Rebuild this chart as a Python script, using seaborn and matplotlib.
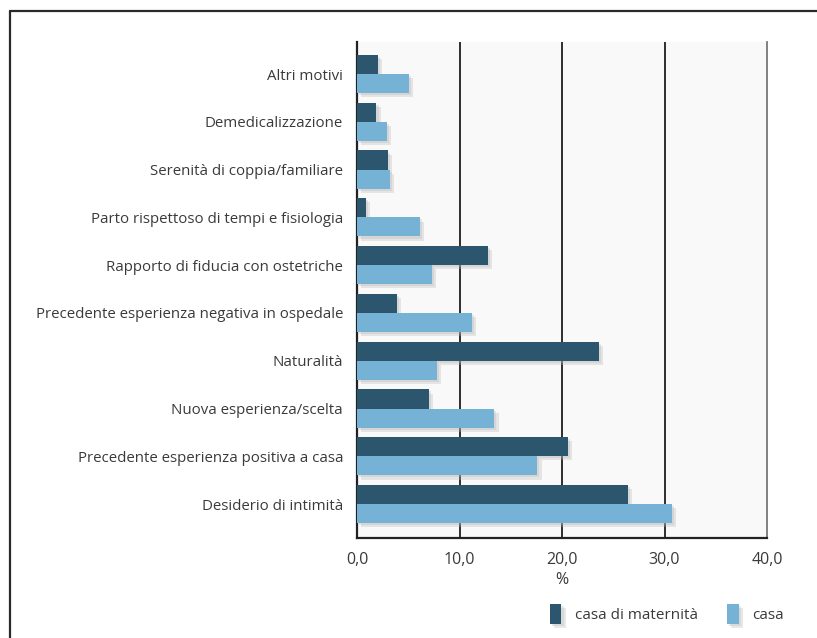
import matplotlib
matplotlib.use("Agg")
import matplotlib.pyplot as plt
import matplotlib.patheffects as pe
from matplotlib.lines import Line2D
from matplotlib.patches import Patch
import seaborn as sns
import pandas as pd

categories = [
    "Altri motivi",
    "Demedicalizzazione",
    "Serenità di coppia/familiare",
    "Parto rispettoso di tempi e fisiologia",
    "Rapporto di fiducia con ostetriche",
    "Precedente esperienza negativa in ospedale",
    "Naturalità",
    "Nuova esperienza/scelta",
    "Precedente esperienza positiva a casa",
    "Desiderio di intimità",
]
casa_maternita = [2.0, 1.9, 3.0, 0.9, 12.8, 3.9, 23.6, 7.0, 20.6, 26.4]
casa = [5.1, 2.9, 3.2, 6.1, 7.3, 11.2, 7.8, 13.4, 17.6, 30.7]
series_names = ["casa di maternità", "casa"]
x_ticks = [0, 10, 20, 30, 40]
x_ticklabels = ["0,0", "10,0", "20,0", "30,0", "40,0"]

dark = "#2b566e"
light = "#76b2d6"
text_col = "#3a3a3a"

df = pd.DataFrame({
    "motivo": categories * 2,
    "valore": casa_maternita + casa,
    "serie": [series_names[0]] * len(categories) + [series_names[1]] * len(categories),
})

sns.set_theme(style="white")
plt.rcParams["font.family"] = ["Open Sans", "DejaVu Sans"]

fig = plt.figure(figsize=(8.17, 6.38), dpi=100)
ax = fig.add_axes([357 / 817, 1 - 538 / 638, 410 / 817, 496 / 638])
ax.set_facecolor("#f9f9f9")

sns.barplot(data=df, y="motivo", x="valore", hue="serie", order=categories,
            hue_order=series_names, palette=[dark, light], orient="h",
            width=0.8, saturation=1, ax=ax, legend=False, zorder=3)

shadow = [pe.SimplePatchShadow(offset=(3, -3), shadow_rgbFace="#b5b5b5", alpha=0.3),
          pe.SimplePatchShadow(offset=(1.5, -1.5), shadow_rgbFace="#b5b5b5", alpha=0.3),
          pe.Normal()]
for p in ax.patches:
    p.set_edgecolor("none")
    p.set_path_effects(shadow)

for xv in x_ticks[1:4]:
    ax.axvline(xv, color="#1e1e1e", lw=1.3, zorder=1)

ax.set_xlim(0, 40)
ax.set_ylim(len(categories) - 1 + 0.71, -0.67)
ax.set_xticks(x_ticks)
ax.set_xticklabels(x_ticklabels, fontsize=11.5, color=text_col)
ax.tick_params(axis="x", length=5, width=1, color="#555555", pad=5, direction="out")
ax.tick_params(axis="y", length=0, pad=10, labelsize=10.8, labelcolor=text_col)
ax.set_xlabel("%", fontsize=11.5, color=text_col, labelpad=3)
ax.set_ylabel("")

ax.spines["top"].set_visible(False)
ax.spines["left"].set_color("#222222")
ax.spines["left"].set_linewidth(1.6)
ax.spines["bottom"].set_color("#222222")
ax.spines["bottom"].set_linewidth(1.6)
ax.spines["right"].set_color("#777777")
ax.spines["right"].set_linewidth(1.3)

# outer frame around the chart
fig.add_artist(Line2D([10 / 817, 10 / 817], [0, 1 - 11 / 638], transform=fig.transFigure,
                      color="#2a2a2a", lw=1.6))
fig.add_artist(Line2D([10 / 817, 1], [1 - 11 / 638, 1 - 11 / 638], transform=fig.transFigure,
                      color="#2a2a2a", lw=1.6))

handles = [Patch(facecolor=dark, edgecolor="none", path_effects=shadow),
           Patch(facecolor=light, edgecolor="none", path_effects=shadow)]
fig.legend(handles, series_names, loc="center", bbox_to_anchor=(667 / 817, 1 - 614 / 638),
           ncol=2, frameon=False, handlelength=0.75, handleheight=1.6, handletextpad=0.9,
           columnspacing=1.9, prop={"size": 11}, labelcolor=text_col)

fig.savefig("out.png", dpi=100, facecolor="white")
